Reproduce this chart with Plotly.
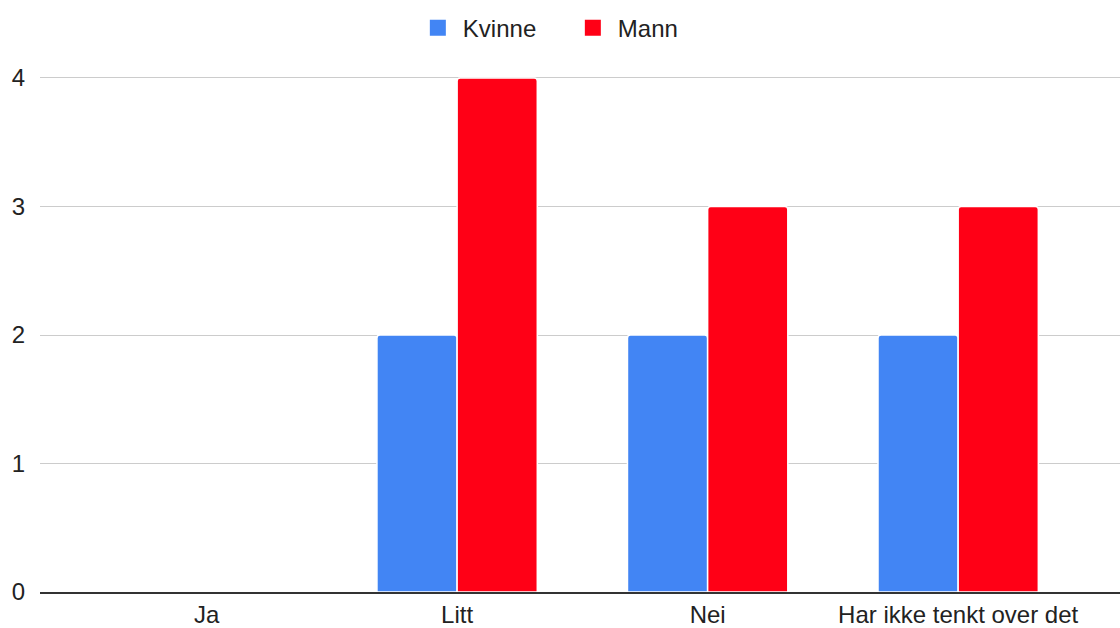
import plotly.graph_objects as go

categories = ["Ja", "Litt", "Nei", "Har ikke tenkt over det"]
kvinne = [0, 2, 2, 2]
mann = [0, 4, 3, 3]
y_ticks = [0, 1, 2, 3, 4]

BLUE = "#4285F4"
RED = "#FF0016"
FONT = "Liberation Sans, Arial, Helvetica, sans-serif"

fig = go.Figure()
fig.add_trace(go.Bar(name="Kvinne", x=categories, y=kvinne,
                     marker=dict(color=BLUE, line=dict(color="white", width=1.5), cornerradius=3),
                     showlegend=False))
fig.add_trace(go.Bar(name="Mann", x=categories, y=mann,
                     marker=dict(color=RED, line=dict(color="white", width=1.5), cornerradius=3),
                     showlegend=False))
# legend entries
fig.add_trace(go.Scatter(name="Kvinne", x=[None], y=[None], mode="markers",
                         marker=dict(symbol="square", size=16, color=BLUE)))
fig.add_trace(go.Scatter(name="Mann", x=[None], y=[None], mode="markers",
                         marker=dict(symbol="square", size=16, color=RED)))

fig.update_layout(
    width=1120, height=628,
    margin=dict(l=40, r=0, t=76, b=36),
    paper_bgcolor="white", plot_bgcolor="white",
    barmode="group", bargap=0.36, bargroupgap=0,
    font=dict(family=FONT, size=24, color="#222222"),
    legend=dict(orientation="h", xref="container", yref="container",
                x=0.507, xanchor="center", y=0.955, yanchor="middle",
                font=dict(size=24, color="#222222"), itemwidth=40,
                entrywidth=100),
    xaxis=dict(type="category", range=[-0.665, 3.646], showgrid=False,
               showline=True, linecolor="#333333", linewidth=2,
               ticks="", tickfont=dict(size=24, color="#222222")),
    yaxis=dict(range=[0, 4.0155], tickvals=y_ticks, showgrid=True,
               gridcolor="#CCCCCC", gridwidth=1, zeroline=False,
               ticks="", ticklabelstandoff=14,
               tickfont=dict(size=24, color="#222222")),
)

fig.write_html("out.html")
